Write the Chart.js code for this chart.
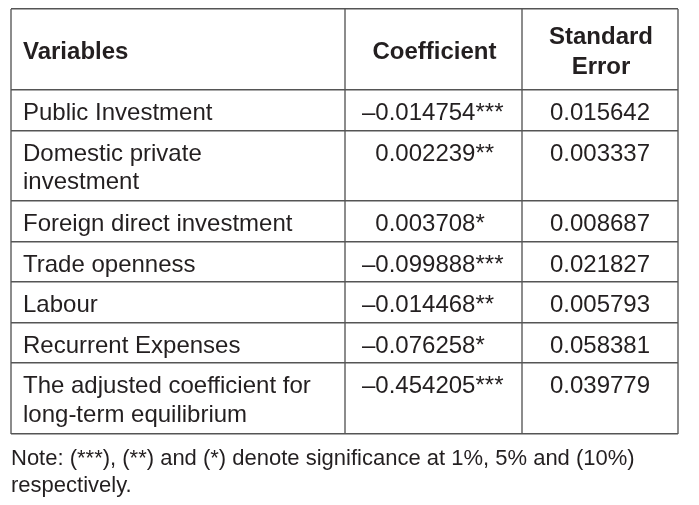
<!DOCTYPE html>
<html><head><meta charset="utf-8">
<script src="https://cdn.jsdelivr.net/npm/chart.js@4/dist/chart.umd.min.js"></script>
<style>html,body{margin:0;padding:0;background:#fff;} #wrap{width:699px;height:505px;}</style>
</head><body><div id="wrap"><canvas id="c" width="699" height="505"></canvas></div>
<script>
// ---- data ----
const headers = [["Variables"], ["Coefficient"], ["Standard", "Error"]];
const variables = [
  ["Public Investment"],
  ["Domestic private", "investment"],
  ["Foreign direct investment"],
  ["Trade openness"],
  ["Labour"],
  ["Recurrent Expenses"],
  ["The adjusted coefficient for", "long-term equilibrium"]
];
const coefficients = [-0.014754, 0.002239, 0.003708, -0.099888, -0.014468, -0.076258, -0.454205];
const significance = ["***", "**", "*", "***", "**", "*", "***"];
const standardErrors = [0.015642, 0.003337, 0.008687, 0.021827, 0.005793, 0.058381, 0.039779];
const noteLines = ["Note: (***), (**) and (*) denote significance at 1%, 5% and (10%)", "respectively."];

// ---- layout (scale units) ----
const colWidths = [334, 177, 156];
const headerHeight = 81;
const rowHeights = variables.map(v => v.length === 1 ? 40.5 : 70.5);
const colEdges = colWidths.reduce((a, w) => (a.push(a[a.length - 1] + w), a), [0]);
const rowEdges = [0, headerHeight];
rowHeights.forEach(h => rowEdges.push(rowEdges[rowEdges.length - 1] + h));

const FONT = '"Liberation Sans", Arial, Helvetica, sans-serif';
const TEXT = '#231f20';

function fmtCoef(v, s) { return (v < 0 ? '\u2013' : '') + Math.abs(v).toFixed(6) + s; }

const tablePlugin = {
  id: 'tableText',
  afterDraw(chart) {
    const ctx = chart.ctx, xs = chart.scales.x, ys = chart.scales.y;
    ctx.save();
    ctx.fillStyle = TEXT;
    ctx.textBaseline = 'alphabetic';
    // header
    ctx.font = 'bold 24px ' + FONT;
    const hTop = ys.getPixelForValue(rowEdges[0]), hBot = ys.getPixelForValue(rowEdges[1]);
    const hMid = (hTop + hBot) / 2 + 9.5;
    headers.forEach((lines, c) => {
      const l = xs.getPixelForValue(colEdges[c]), r = xs.getPixelForValue(colEdges[c + 1]);
      lines.forEach((t, i) => {
        const y = hMid + (i - (lines.length - 1) / 2) * 29.5;
        if (c === 0) { ctx.textAlign = 'left'; ctx.fillText(t, l + 12, y); }
        else { ctx.textAlign = 'center'; ctx.fillText(t, (l + r) / 2 + 1, y); }
      });
    });
    // body
    ctx.font = '24px ' + FONT;
    const dashW = ctx.measureText('\u2013').width;
    variables.forEach((lines, r) => {
      const top = ys.getPixelForValue(rowEdges[r + 1]);
      const base = top + 30;
      ctx.textAlign = 'left';
      const x0 = xs.getPixelForValue(colEdges[0]);
      lines.forEach((t, i) => ctx.fillText(t, x0 + 12, base + i * 28.5));
      const x1 = xs.getPixelForValue(colEdges[1]);
      const v = coefficients[r];
      ctx.fillText(fmtCoef(v, significance[r]), x1 + 17 + (v < 0 ? 0 : dashW), base);
      const x2 = xs.getPixelForValue(colEdges[2]), x3 = xs.getPixelForValue(colEdges[3]);
      ctx.textAlign = 'center';
      ctx.fillText(standardErrors[r].toFixed(6), (x2 + x3) / 2, base);
    });
    // note
    ctx.font = '22px ' + FONT;
    ctx.textAlign = 'left';
    const bottom = ys.getPixelForValue(rowEdges[rowEdges.length - 1]);
    noteLines.forEach((t, i) => ctx.fillText(t, xs.getPixelForValue(0), bottom + 31 + i * 27.5));
    ctx.restore();
  }
};

new Chart(document.getElementById('c'), {
  type: 'scatter',
  data: { datasets: [] },
  plugins: [tablePlugin],
  options: {
    responsive: false,
    animation: false,
    events: [],
    layout: { padding: { left: 11, top: 9, right: 21, bottom: 71.5 } },
    plugins: { legend: { display: false }, tooltip: { enabled: false }, title: { display: false } },
    scales: {
      x: {
        type: 'linear', min: 0, max: colEdges[colEdges.length - 1],
        afterBuildTicks: s => { s.ticks = colEdges.map(v => ({ value: v })); },
        ticks: { display: false },
        border: { display: false },
        grid: { color: '#8c8c8c', lineWidth: 2, drawTicks: false }
      },
      y: {
        type: 'linear', reverse: true, min: 0, max: rowEdges[rowEdges.length - 1],
        afterBuildTicks: s => { s.ticks = rowEdges.map(v => ({ value: v })); },
        ticks: { display: false },
        border: { display: false },
        grid: { color: '#555555', lineWidth: 1.5, drawTicks: false }
      }
    }
  }
});
</script>
</body></html>
